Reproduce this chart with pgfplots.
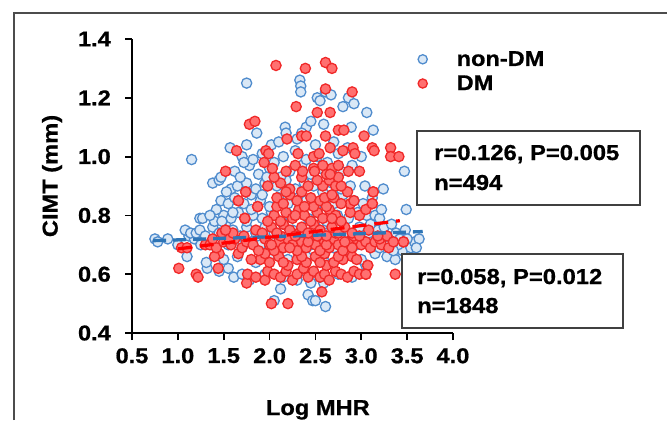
\documentclass[border=0pt]{standalone}
\usepackage{fontspec}
\setmainfont{Liberation Sans}[FakeStretch=1.1, BoldFeatures={FakeBold=0.8}]
\usepackage{pgfplots}
\pgfplotsset{compat=1.18}
\definecolor{ndmedge}{RGB}{80,140,205}
\definecolor{ndmfill}{RGB}{218,232,246}
\definecolor{dmedge}{RGB}{240,40,40}
\definecolor{dmfill}{RGB}{255,112,112}
\definecolor{ndmline}{RGB}{46,117,182}
\definecolor{dmline}{RGB}{255,0,0}
\newcommand{\bigbf}[1]{\bfseries\fontsize{#1}{#1}\selectfont}

\begin{document}
\begin{tikzpicture}[x=1bp,y=1bp]
\useasboundingbox (0,0) rectangle (667,420);
\draw[line width=1.3bp, black!70] (14,0) -- (14,407) -- (667,407);
\begin{axis}[
    at={(132bp,87bp)}, anchor=south west,
    scale only axis, width=321bp, height=294bp,
    xmin=0.5, xmax=4.0, ymin=0.4, ymax=1.4,
    xtick={0.5,1.0,1.5,2.0,2.5,3.0,3.5,4.0},
    ytick={0.4,0.6,0.8,1.0,1.2,1.4},
    axis lines=left,
    axis line style={-, line width=1.8bp, black},
    tick style={line width=1.8bp, black},
    tick align=outside, major tick length=7bp,
    /pgf/number format/.cd, fixed, fixed zerofill, precision=1, assume math mode=true,
    /pgfplots/.cd,
    ticklabel style={font=\bigbf{21.5}, inner sep=0pt},
    xticklabel style={yshift=-8bp},
    yticklabel style={xshift=-14bp},
    xlabel={Log MHR}, ylabel={CIMT (mm)},
    label style={font=\bigbf{21.6}},
    xlabel style={at={(axis description cs:0.579,-0.279)}, anchor=base, inner sep=0pt},
    ylabel style={at={(axis description cs:-0.249,0.534)}, anchor=center, inner sep=0pt},
    legend style={draw=none, fill=none, at={(axis cs:3.613,1.366)}, anchor=north west,
      font=\bigbf{21.5}, row sep=4bp, inner sep=0pt, cells={anchor=west}},
    legend image code/.code={\path[draw=none] (0bp,0bp) (37bp,0bp); \draw[#1, mark size=4.6bp] plot coordinates {(5bp,0bp)};},
    clip mode=individual,
]
% non-DM
\addplot[only marks, mark=*, mark size=5.1bp, mark options={draw=ndmedge, fill=ndmfill, line width=1.3bp}] coordinates {
(2.05,0.51)(2.12,0.55)(2.42,0.53)(2.47,0.51)(2.50,0.51)(2.61,0.49)(2.59,0.57)(2.45,0.57)
(1.61,0.59)(1.70,0.60)(1.78,0.58)(1.95,0.60)(2.15,0.59)(2.30,0.58)(2.55,0.59)(2.75,0.60)(2.90,0.59)(3.05,0.63)(1.32,0.62)(1.45,0.61)(1.55,0.62)(2.38,0.61)
(1.10,0.66)(1.31,0.64)(1.50,0.65)(1.65,0.66)(1.85,0.64)(2.00,0.66)(2.20,0.65)(2.40,0.66)(2.60,0.64)(2.80,0.66)(3.00,0.65)(3.15,0.67)(3.28,0.66)(3.37,0.65)(3.51,0.67)(3.45,0.68)
(0.75,0.72)(0.78,0.71)(0.89,0.72)(1.00,0.70)(1.12,0.73)(1.18,0.72)(1.25,0.70)(1.35,0.71)(1.42,0.69)(1.55,0.70)(1.62,0.72)(1.70,0.69)(1.80,0.71)(1.90,0.70)(2.05,0.72)(2.15,0.69)(2.30,0.71)(2.45,0.70)(2.55,0.72)(2.70,0.69)(2.85,0.71)(2.95,0.70)(3.10,0.72)(3.20,0.69)(3.30,0.71)(3.40,0.70)(3.54,0.69)(3.58,0.71)(3.63,0.72)
(1.08,0.75)(1.14,0.74)(1.20,0.74)(1.24,0.75)(1.30,0.73)(1.38,0.76)(1.45,0.74)(1.52,0.77)(1.60,0.75)(1.68,0.73)(1.75,0.76)(1.85,0.74)(1.95,0.76)(2.05,0.74)(2.15,0.77)(2.25,0.75)(2.35,0.73)(2.50,0.76)(2.60,0.74)(2.72,0.76)(2.85,0.74)(2.98,0.76)(3.08,0.74)(3.18,0.75)(3.28,0.73)(3.38,0.74)(3.48,0.75)
(1.24,0.79)(1.27,0.79)(1.40,0.78)(1.50,0.80)(1.58,0.79)(1.66,0.81)(1.75,0.78)(1.82,0.80)(1.92,0.79)(2.02,0.81)(2.12,0.78)(2.22,0.80)(2.32,0.82)(2.42,0.79)(2.52,0.81)(2.62,0.78)(2.74,0.80)(2.86,0.79)(2.96,0.81)(3.06,0.80)(3.15,0.80)(3.20,0.79)(3.49,0.82)
(1.47,0.85)(1.55,0.84)(1.62,0.86)(1.72,0.84)(1.80,0.87)(1.90,0.85)(2.00,0.83)(2.10,0.86)(2.20,0.84)(2.30,0.87)(2.40,0.85)(2.50,0.83)(2.60,0.86)(2.70,0.84)(2.80,0.87)(2.92,0.85)(3.02,0.84)(3.12,0.86)
(1.38,0.91)(1.45,0.92)(1.58,0.89)(1.65,0.90)(1.75,0.91)(1.85,0.89)(1.95,0.91)(2.08,0.90)(2.18,0.92)(2.28,0.89)(2.38,0.91)(2.48,0.90)(2.58,0.88)(2.68,0.91)(2.78,0.89)(2.88,0.90)(3.04,0.90)(3.24,0.89)
(1.47,0.93)(1.62,0.95)(1.78,0.97)(1.88,0.94)(2.00,0.96)(2.12,0.93)(2.22,0.95)(2.35,0.97)(2.45,0.94)(2.55,0.96)(2.65,0.93)(2.78,0.95)(2.90,0.97)(3.47,0.95)
(1.15,0.99)(1.70,1.00)(1.82,0.99)(1.92,1.01)(2.05,0.98)(2.15,1.00)(2.28,1.02)(2.40,0.99)(2.52,1.00)(2.63,0.98)(2.75,1.01)(3.00,1.00)
(1.57,1.03)(1.75,1.04)(2.02,1.04)(2.10,1.05)(2.30,1.06)(2.50,1.04)(2.70,1.05)(2.85,1.03)
(1.86,1.08)(2.17,1.10)(2.18,1.08)(2.40,1.10)(2.45,1.12)(2.59,1.11)(2.89,1.10)(3.13,1.09)(2.35,1.08)
(2.80,1.17)(3.06,1.15)(2.52,1.20)(2.55,1.19)(2.86,1.20)(2.92,1.18)(2.61,1.22)(2.67,1.21)(2.33,1.26)(2.34,1.24)(2.34,1.22)(1.75,1.25)
(1.42,0.82)(1.53,0.88)(1.68,0.93)(1.72,0.98)(1.60,0.81)(1.35,0.80)(1.48,0.78)(1.80,0.82)(1.92,0.87)(1.97,0.93)
(3.10,0.77)(3.22,0.82)(3.25,0.76)(3.33,0.77)(3.42,0.72)(3.35,0.68)(3.60,0.69)(3.50,0.72)
};
\addlegendentry{non-DM}
% DM
\addplot[only marks, mark=*, mark size=5.1bp, mark options={draw=dmedge, fill=dmfill, line width=1.3bp}] coordinates {
(1.75,0.57)(1.76,0.60)(1.85,0.59)(1.95,0.58)(1.98,0.61)(2.05,0.60)(2.12,0.59)(2.18,0.61)(2.25,0.58)(2.30,0.60)(2.37,0.62)(2.42,0.59)(2.48,0.61)(2.55,0.59)(2.60,0.60)(2.65,0.58)(2.72,0.61)(2.78,0.60)(2.85,0.59)(2.92,0.61)(2.98,0.60)(3.05,0.60)(1.01,0.62)(1.20,0.60)(1.22,0.59)(1.44,0.62)(3.37,0.60)(2.20,0.63)(2.40,0.64)(2.62,0.63)
(1.45,0.67)(1.90,0.65)(2.10,0.66)(2.30,0.65)(2.50,0.66)(2.70,0.64)(2.90,0.66)(3.07,0.63)(2.00,0.64)(2.60,0.67)(2.80,0.65)
(1.95,0.67)(2.15,0.64)(2.35,0.66)(2.55,0.64)(2.75,0.66)(2.95,0.65)(1.66,0.67)(1.80,0.65)(1.40,0.66)
(1.30,0.70)(1.35,0.70)(1.42,0.69)(1.50,0.71)(1.58,0.70)(1.62,0.72)(1.70,0.69)(1.75,0.71)(1.82,0.70)(1.88,0.68)(1.95,0.72)(2.00,0.70)(2.05,0.68)(2.10,0.71)(2.15,0.69)(2.20,0.72)(2.25,0.70)(2.30,0.68)(2.35,0.71)(2.40,0.69)(2.45,0.72)(2.50,0.70)(2.55,0.68)(2.60,0.71)(2.65,0.69)(2.70,0.72)(2.75,0.70)(2.80,0.68)(2.85,0.71)(2.90,0.69)(2.95,0.72)(3.00,0.70)(3.05,0.71)(3.10,0.69)(3.15,0.71)(3.22,0.70)(3.30,0.69)(3.46,0.71)(1.04,0.69)(1.10,0.69)
(2.02,0.70)(2.12,0.73)(2.22,0.69)(2.32,0.74)(2.42,0.71)(2.52,0.73)(2.62,0.70)(2.72,0.74)(2.82,0.71)(2.92,0.73)(3.20,0.72)(3.28,0.73)(3.35,0.71)(1.38,0.72)(1.56,0.72)(1.48,0.74)
(1.52,0.75)(1.60,0.74)(1.72,0.73)(1.85,0.75)(1.92,0.74)(2.02,0.76)(2.08,0.74)(2.15,0.77)(2.22,0.75)(2.28,0.73)(2.35,0.76)(2.42,0.74)(2.48,0.77)(2.55,0.75)(2.62,0.73)(2.68,0.76)(2.75,0.74)(2.82,0.76)(2.90,0.74)(2.98,0.73)(3.08,0.75)(3.18,0.73)
(1.73,0.79)(2.05,0.80)(2.12,0.78)(2.18,0.81)(2.25,0.79)(2.32,0.82)(2.38,0.80)(2.45,0.78)(2.52,0.81)(2.58,0.79)(2.65,0.82)(2.72,0.80)(2.78,0.78)(2.88,0.81)(2.98,0.80)(3.05,0.82)(3.12,0.84)
(1.98,0.78)(2.08,0.83)(2.28,0.80)(2.48,0.83)(2.68,0.79)(2.88,0.84)
(1.66,0.85)(1.87,0.83)(2.08,0.86)(2.15,0.84)(2.22,0.87)(2.30,0.85)(2.38,0.83)(2.45,0.86)(2.55,0.85)(2.62,0.83)(2.70,0.86)(2.78,0.84)(2.92,0.85)
(1.74,0.88)(1.98,0.90)(2.12,0.91)(2.22,0.89)(2.35,0.88)(2.58,0.90)(2.65,0.92)(2.72,0.90)(2.85,0.88)(3.13,0.88)(2.18,0.88)(2.42,0.90)(2.52,0.92)(2.60,0.86)(2.78,0.90)(2.68,0.87)
(2.05,0.93)(2.18,0.95)(2.62,0.94)(2.68,0.96)(2.75,0.93)(2.35,0.93)(2.48,0.96)(2.58,0.97)
(2.07,1.31)(2.39,1.30)(2.61,1.32)(2.68,1.30)(2.61,1.23)(2.90,1.22)(2.29,1.17)(2.52,1.15)(2.66,1.15)
(1.78,1.11)(1.84,1.12)(2.75,1.09)(2.81,1.09)(3.03,1.07)(2.19,1.06)(2.35,1.07)(2.40,1.07)(2.61,1.07)
(3.12,1.03)(3.14,1.02)(3.32,1.03)(3.32,1.00)(3.41,1.00)(1.64,1.02)(1.96,1.02)(1.99,1.01)(2.31,1.01)(2.48,1.00)(2.54,1.01)(2.66,1.03)(2.80,1.02)(2.91,1.03)(2.93,1.01)
(1.52,0.95)(1.94,0.98)(2.03,0.96)(2.28,0.97)(2.36,0.95)(2.49,0.95)(2.66,0.94)(2.75,0.97)(2.86,0.95)(2.98,0.95)
(3.13,0.88)(3.12,0.84)(1.66,0.85)(1.74,0.88)(1.87,0.83)(1.73,0.79)(1.52,0.75)
(2.02,0.50)(2.20,0.50)(2.57,0.54)(3.46,0.71)(3.07,0.63)(3.05,0.60)
};
\addlegendentry{DM}
\addplot[forget plot, ndmline, line width=3.3bp, dash pattern=on 13bp off 7bp] coordinates {(0.73,0.714)(3.67,0.745)};
\addplot[forget plot, dmline, line width=3.3bp, dash pattern=on 14bp off 8bp] coordinates {(1.00,0.686)(3.42,0.782)};
\end{axis}
\draw[line width=1.2bp, black!75, fill=white] (417,215) rectangle (640,289);
\node[anchor=base west, inner sep=0pt, font=\bigbf{21.7}] at (434,260) {r=0.126, P=0.005};
\node[anchor=base west, inner sep=0pt, font=\bigbf{21.7}] at (434,230) {n=494};
\draw[line width=1.2bp, black!75, fill=white] (402,92) rectangle (623,166);
\node[anchor=base west, inner sep=0pt, font=\bigbf{21.7}] at (417,136) {r=0.058, P=0.012};
\node[anchor=base west, inner sep=0pt, font=\bigbf{21.7}] at (417,107) {n=1848};
\end{tikzpicture}
\end{document}
